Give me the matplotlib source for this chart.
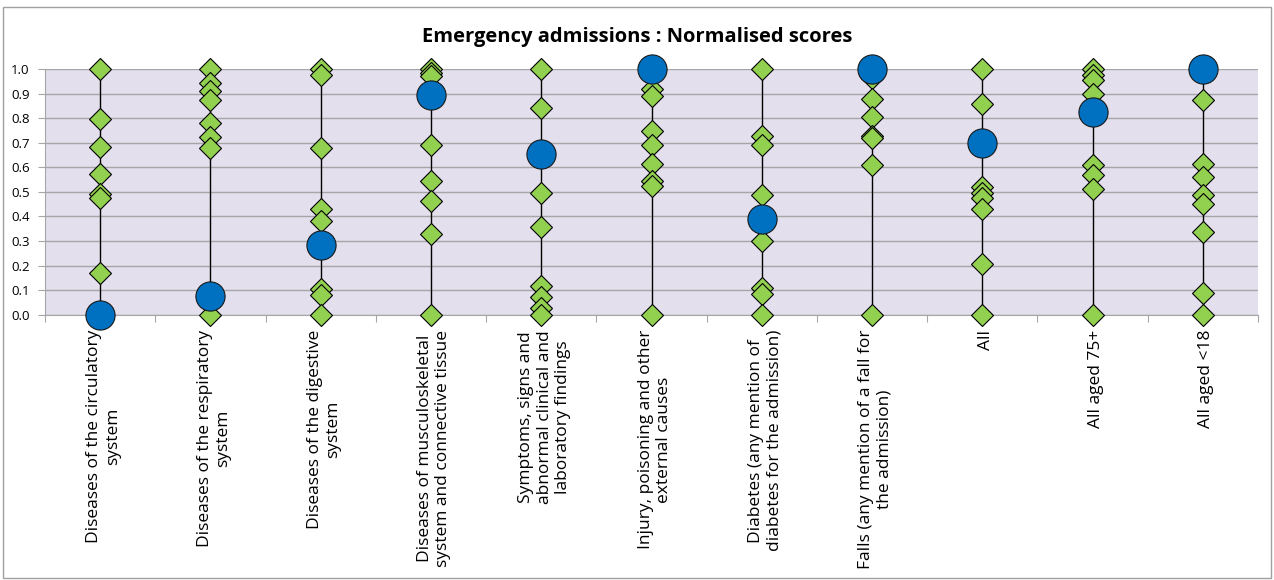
import matplotlib.pyplot as plt
from matplotlib.patches import Rectangle

# categories along the x axis
categories = [
    "Diseases of the circulatory\nsystem",
    "Diseases of the respiratory\nsystem",
    "Diseases of the digestive\nsystem",
    "Diseases of musculoskeletal\nsystem and connective tissue",
    "Symptoms, signs and\nabnormal clinical and\nlaboratory findings",
    "Injury, poisoning and other\nexternal causes",
    "Diabetes (any mention of\ndiabetes for the admission)",
    "Falls (any mention of a fall for\nthe admission)",
    "All",
    "All aged 75+",
    "All aged <18",
]

# highlighted area (blue circle), one score per category
highlight = [0.0, 0.076, 0.284, 0.894, 0.655, 1.0, 0.388, 1.0, 0.700, 0.824, 1.0]

# the other areas (green diamonds), per category
others = [
    [1.0, 0.796, 0.682, 0.571, 0.490, 0.474, 0.171, 0.0],
    [1.0, 0.942, 0.912, 0.874, 0.782, 0.722, 0.680, 0.0],
    [1.0, 0.976, 0.677, 0.431, 0.383, 0.103, 0.080, 0.0],
    [1.0, 0.985, 0.970, 0.689, 0.543, 0.461, 0.328, 0.0],
    [1.0, 0.843, 0.497, 0.358, 0.117, 0.071, 0.026, 0.0],
    [0.919, 0.890, 0.747, 0.689, 0.615, 0.545, 0.524, 0.0],
    [1.0, 0.727, 0.690, 0.487, 0.301, 0.110, 0.083, 0.0],
    [0.975, 0.962, 0.877, 0.806, 0.728, 0.721, 0.608, 0.0],
    [1.0, 0.858, 0.520, 0.494, 0.474, 0.430, 0.206, 0.0],
    [1.0, 0.976, 0.955, 0.898, 0.608, 0.569, 0.511, 0.0],
    [0.874, 0.612, 0.559, 0.487, 0.450, 0.336, 0.090, 0.0],
]

yticks = [0.0, 0.1, 0.2, 0.3, 0.4, 0.5, 0.6, 0.7, 0.8, 0.9, 1.0]

plt.rcParams['font.family'] = ['Open Sans', 'DejaVu Sans']

fig = plt.figure(figsize=(12.74, 5.80), dpi=100)
ax = fig.add_axes([45 / 1274, 1 - 314.7 / 580, 1213 / 1274, 245.7 / 580])
ax.set_facecolor('#E4DFEC')

x = list(range(len(categories)))

# high-low lines
for i in x:
    vals = others[i] + [highlight[i]]
    ax.vlines(i, min(vals), max(vals), color='black', lw=1, zorder=2)

for i in x:
    ax.plot([i] * len(others[i]), others[i], linestyle='none', marker='D',
            markersize=11, markerfacecolor='#92D050', markeredgecolor='black',
            markeredgewidth=0.8, zorder=3, clip_on=False)
ax.plot(x, highlight, linestyle='none', marker='o', markersize=21,
        markerfacecolor='#0070C0', markeredgecolor='#1a1a1a',
        markeredgewidth=0.8, zorder=4, clip_on=False)

ax.set_xlim(-0.5, len(categories) - 0.5)
ax.set_ylim(0, 1.0)
ax.set_yticks(yticks)
ax.set_yticklabels(['%.1f' % v for v in yticks], fontsize=9.5)
ax.yaxis.grid(True, color='#A6A6A6', lw=1)
ax.set_axisbelow(True)

# category boundaries as tick marks, labels centred between them
ax.set_xticks([i + 0.5 for i in x[:-1]] + [-0.5, len(categories) - 0.5])
ax.set_xticklabels([])
ax.tick_params(axis='x', length=5, color='#A6A6A6')
ax.tick_params(axis='y', length=5, color='#A6A6A6', pad=6)
for i, lab in enumerate(categories):
    ax.text(i + 0.03, -0.062, lab, rotation=90, ha='center', va='top',
            multialignment='center', fontsize=12.5,
            transform=ax.get_xaxis_transform())

for side in ['top', 'right']:
    ax.spines[side].set_visible(False)
ax.spines['left'].set_color('#A6A6A6')
ax.spines['bottom'].set_color('#A6A6A6')

fig.text(0.5, 1 - 37 / 580, 'Emergency admissions : Normalised scores',
         ha='center', va='center', fontsize=14.5, fontweight='bold')

# outer chart border
fig.patches.append(Rectangle((3 / 1274, 2 / 580), 1268 / 1274, 571 / 580,
                             transform=fig.transFigure, fill=False,
                             edgecolor='#A0A0A0', lw=1))

fig.savefig('out.png', dpi=100)
